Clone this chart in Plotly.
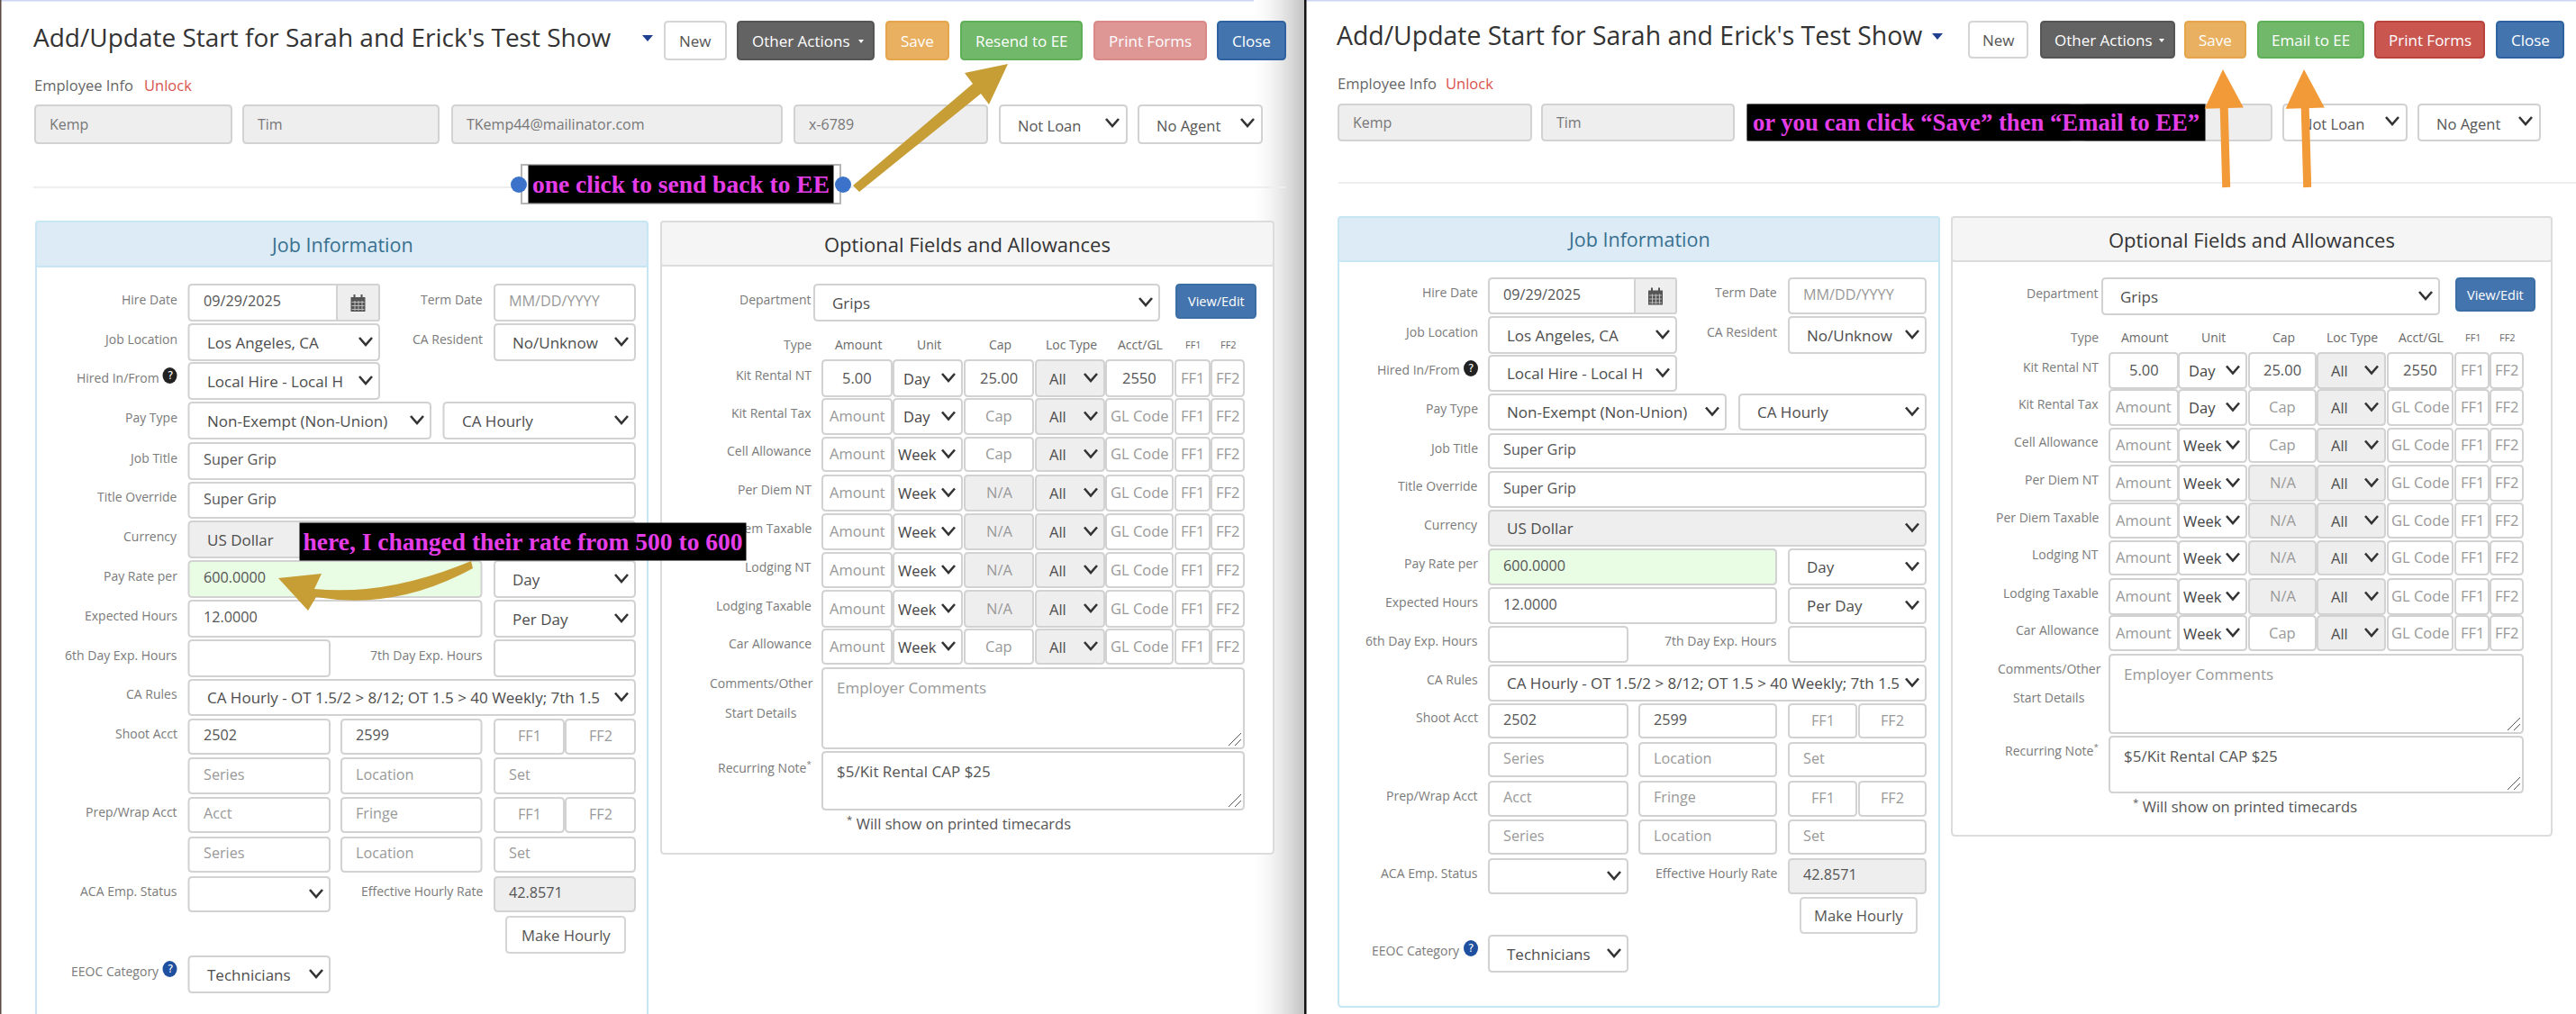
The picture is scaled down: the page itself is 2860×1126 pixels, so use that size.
import plotly.graph_objects as go

# ---------- text content ----------
PAGE_TITLE = "Add/Update Start for Sarah and Erick's Test Show"
TOP_BUTTONS_L = ["New", "Other Actions", "Save", "Resend to EE", "Print Forms", "Close"]
TOP_BUTTONS_R = ["New", "Other Actions", "Save", "Email to EE", "Print Forms", "Close"]
EMP_FIELDS = ["Kemp", "Tim", "TKemp44@mailinator.com", "x-6789"]
EMP_SELECTS = ["Not Loan", "No Agent"]
NOTE_L1 = "one click to send back to EE"
NOTE_L2 = "here, I changed their rate from 500 to 600"
NOTE_R = "or you can click “Save” then “Email to EE”"
JOB_HEAD = "Job Information"
OPT_HEAD = "Optional Fields and Allowances"
FORM_LABELS = ["Hire Date", "Job Location", "Hired In/From", "Pay Type", "Job Title", "Title Override",
               "Currency", "Pay Rate per", "Expected Hours", "6th Day Exp. Hours", "CA Rules", "Shoot Acct",
               "", "Prep/Wrap Acct", "", "ACA Emp. Status", "", "EEOC Category"]
CA_RULES = "CA Hourly - OT 1.5/2 > 8/12; OT 1.5 > 40 Weekly; 7th 1.5"
COL_HEADS = ["Amount", "Unit", "Cap", "Loc Type", "Acct/GL", "FF1", "FF2"]
ALLOW_TYPES = ["Kit Rental NT", "Kit Rental Tax", "Cell Allowance", "Per Diem NT", "Per Diem Taxable",
               "Lodging NT", "Lodging Taxable", "Car Allowance"]
ALLOW_AMOUNT = ["5.00", "Amount", "Amount", "Amount", "Amount", "Amount", "Amount", "Amount"]
ALLOW_UNIT = ["Day", "Day", "Week", "Week", "Week", "Week", "Week", "Week"]
ALLOW_CAP = ["25.00", "Cap", "Cap", "N/A", "N/A", "N/A", "N/A", "Cap"]
ALLOW_GL = ["2550", "GL Code", "GL Code", "GL Code", "GL Code", "GL Code", "GL Code", "GL Code"]

OS = "Open Sans"
VAL, PH, LAB = "#555555", "#999999", "#7a7a7a"
BORDER = "#d2d2d2"
FIELD_SIZE = 16.2
SELECT_SIZE = 17
LABEL_SIZE = 14
shapes, anns = [], []


def rrect(x0, y0, x1, y1, fill="white", line=BORDER, r=4, lw=2):
    p = (f"M{x0+r},{y0} L{x1-r},{y0} Q{x1},{y0} {x1},{y0+r} L{x1},{y1-r} Q{x1},{y1} {x1-r},{y1} "
         f"L{x0+r},{y1} Q{x0},{y1} {x0},{y1-r} L{x0},{y0+r} Q{x0},{y0} {x0+r},{y0} Z")
    shapes.append(dict(type="path", path=p, fillcolor=fill, line=dict(color=line, width=lw), layer="above"))


def rect(x0, y0, x1, y1, fill):
    shapes.append(dict(type="rect", x0=x0, y0=y0, x1=x1, y1=y1, fillcolor=fill, line=dict(width=0), layer="above"))


def poly(pts, fill, color=None, lw=0, closed=True):
    p = "M" + " L".join(f"{a},{b}" for a, b in pts) + (" Z" if closed else "")
    shapes.append(dict(type="path", path=p, fillcolor=fill if closed else "rgba(0,0,0,0)",
                       line=dict(color=color or fill, width=lw), layer="above"))


def text(x, y, s, size=FIELD_SIZE, color=VAL, anchor="left", family=OS):
    if s:
        anns.append(dict(x=x, y=y, text=s, showarrow=False, xanchor=anchor, yanchor="middle",
                         font=dict(size=size, color=color, family=family), borderpad=0, borderwidth=0))


def chevron(xc, yc):
    poly([(xc - 7, yc - 4), (xc, yc + 4), (xc + 7, yc - 4)], None, "#333333", 2.6, closed=False)


def field(x0, y0, x1, y1, s="", ph=False, fill="white", center=False, size=FIELD_SIZE):
    rrect(x0, y0, x1, y1, fill=fill)
    if center:
        text((x0 + x1) / 2, (y0 + y1) / 2 - 1, s, size, PH if ph else VAL, "center")
    else:
        text(x0 + 16, (y0 + y1) / 2 - 2, s, size, PH if ph else VAL)


def select(x0, y0, x1, y1, s="", pad=20, fill="white", color="#4d4d4d", size=SELECT_SIZE):
    rrect(x0, y0, x1, y1, fill=fill)
    text(x0 + pad, (y0 + y1) / 2, s, size, color)
    chevron(x1 - 15, (y0 + y1) / 2 - 1)


def help_icon(x, y, color):
    shapes.append(dict(type="circle", x0=x - 8, x1=x + 8, y0=y - 9, y1=y + 9, fillcolor=color,
                       line=dict(width=0), layer="above"))
    text(x, y, "?", 12, "white", "center", "DejaVu Sans")


def button(x0, y0, x1, y1, s, fill, line, color="white", size=17):
    rrect(x0, y0, x1, y1, fill=fill, line=line)
    text((x0 + x1) / 2, (y0 + y1) / 2, s, size, color, "center")


def calendar(cx, cy):
    rect(cx - 8, cy - 6, cx + 8, cy + 10, "#555555")
    rect(cx - 5, cy - 9, cx - 3, cy - 5, "#555555")
    rect(cx + 3, cy - 9, cx + 5, cy - 5, "#555555")
    for dy in (-1, 3, 7):
        rect(cx - 7, cy + dy, cx + 7, cy + dy + 1, "#bbbbbb")
    for dx in (-4, 0, 4):
        rect(cx + dx, cy - 2, cx + dx + 1, cy + 9, "#bbbbbb")


def header(g):
    text(g["tx"], g["ty"], PAGE_TITLE, g["ts"], "#333333")
    c = g["caret"]
    poly([(c - 6, g["cy"] - 3), (c + 6, g["cy"] - 3), (c, g["cy"] + 4)], "#1f3f8f")
    y0, y1 = g["by"]
    for (a, b), s, (f, l) in zip(g["bx"], g["btns"], g["bc"]):
        if s == "New":
            button(a, y0, b, y1, s, "white", "#d5d5d5", "#555555")
        elif s == "Other Actions":
            rrect(a, y0, b, y1, fill=f, line=l)
            text((a + b) / 2 - 5, (y0 + y1) / 2, s, 17, "white", "center")
            m = b - 14
            poly([(m - 3, (y0 + y1) / 2 - 1), (m + 3, (y0 + y1) / 2 - 1), (m, (y0 + y1) / 2 + 3)], "white")
        else:
            button(a, y0, b, y1, s, f, l)
    text(g["tx"] + 1, g["ey"], "Employee Info", 16.5, "#666666")
    text(g["unlock"], g["ey"], "Unlock", 16.5, "#d9534f")
    iy0, iy1 = g["iy"]
    for (a, b), s in zip(g["ix"], EMP_FIELDS):
        rrect(a, iy0, b, iy1, fill="#eeeeee")
        text(a + 16, (iy0 + iy1) / 2, s, 16, "#777777")
    for (a, b), s in zip(g["sx"], EMP_SELECTS):
        rrect(a, iy0, b, iy1, fill="white")
        text(a + 20, (iy0 + iy1) / 2 + 1, s, 16.5, "#555555")
        chevron(b - 16, (iy0 + iy1) / 2 - 2)
    rect(g["hr"][0], g["hy"] - 1, g["hr"][1], g["hy"] + 1, "#eeeeee")


def job_panel(g):
    p = g["panel"]
    rrect(p[0], p[1], p[2], p[3], fill="white", line="#c6e6f3", lw=2)
    rrect(p[0], p[1], p[2], p[4], fill="#dcebf5", line="#c6e6f3", lw=2, r=3)
    text((p[0] + p[2]) / 2, (p[1] + p[4]) / 2, JOB_HEAD, 21.5, "#38708f", "center")
    Y = g["rows"]
    x0, xf, c2 = g["x0"], g["xf"], g["c2"]
    a, b0, b1, f1, f2 = g["a"], g["b0"], g["b1"], g["f1"], g["f2"]
    for i, lab in enumerate(FORM_LABELS):
        ly = (Y[i][0] + Y[i][1]) / 2 - 4
        r = g["lr"] - (20 if lab in ("Hired In/From", "EEOC Category") else 0)
        text(r, ly, lab, LABEL_SIZE, LAB, "right")
    help_icon(g["lr"] - 8, Y[2][0] + 14, "#222222")
    help_icon(g["lr"] - 8, Y[17][0] + 14, "#1f4f9f")
    for lab, i in (("Term Date", 0), ("CA Resident", 1), ("7th Day Exp. Hours", 9), ("Effective Hourly Rate", 15)):
        text(g["l2"], (Y[i][0] + Y[i][1]) / 2 - 4, lab, LABEL_SIZE, LAB, "right")
    # Hire date group with calendar add-on
    y0, y1 = Y[0]
    rrect(x0, y0, g["he"], y1)
    rrect(g["ad"], y0, g["he"], y1, fill="#eeeeee", r=2)
    text(x0 + 16, (y0 + y1) / 2 - 2, "09/29/2025", FIELD_SIZE, VAL)
    calendar((g["ad"] + g["he"]) / 2, (y0 + y1) / 2)
    field(c2, y0, xf, y1, "MM/DD/YYYY", ph=True)
    select(x0, Y[1][0], g["he"], Y[1][1], "Los Angeles, CA")
    select(c2, Y[1][0], xf, Y[1][1], "No/Unknow")
    select(x0, Y[2][0], g["he"], Y[2][1], "Local Hire - Local H")
    select(x0, Y[3][0], g["p1"], Y[3][1], "Non-Exempt (Non-Union)")
    select(g["p2"], Y[3][0], xf, Y[3][1], "CA Hourly")
    field(x0, Y[4][0], xf, Y[4][1], "Super Grip")
    field(x0, Y[5][0], xf, Y[5][1], "Super Grip")
    select(x0, Y[6][0], xf, Y[6][1], "US Dollar", fill="#eeeeee")
    field(x0, Y[7][0], b1, Y[7][1], "600.0000", fill="#e9fce4")
    select(c2, Y[7][0], xf, Y[7][1], "Day")
    field(x0, Y[8][0], b1, Y[8][1], "12.0000")
    select(c2, Y[8][0], xf, Y[8][1], "Per Day")
    field(x0, Y[9][0], a, Y[9][1])
    field(c2, Y[9][0], xf, Y[9][1])
    select(x0, Y[10][0], xf, Y[10][1], CA_RULES)
    for k, (s1, s2, s3, s4) in ((11, ("2502", "2599", "FF1", "FF2")), (13, ("Acct", "Fringe", "FF1", "FF2"))):
        field(x0, Y[k][0], a, Y[k][1], s1, ph=(k == 13))
        field(b0, Y[k][0], b1, Y[k][1], s2, ph=(k == 13))
        field(c2, Y[k][0], f1, Y[k][1], s3, ph=True, center=True)
        field(f2, Y[k][0], xf, Y[k][1], s4, ph=True, center=True)
    for k in (12, 14):
        field(x0, Y[k][0], a, Y[k][1], "Series", ph=True)
        field(b0, Y[k][0], b1, Y[k][1], "Location", ph=True)
        field(c2, Y[k][0], xf, Y[k][1], "Set", ph=True)
    select(x0, Y[15][0], a, Y[15][1])
    field(c2, Y[15][0], xf, Y[15][1], "42.8571", fill="#eeeeee")
    button(g["m0"], Y[16][0], g["m1"], Y[16][1], "Make Hourly", "white", "#d5d5d5", "#555555", 16.7)
    select(x0, Y[17][0], a, Y[17][1], "Technicians")


def opt_panel(g):
    p = g["panel"]
    rrect(p[0], p[1], p[2], p[3], fill="white", line="#dcdcdc", lw=2)
    rrect(p[0], p[1], p[2], p[4], fill="#f5f5f5", line="#dcdcdc", lw=2, r=3)
    text((p[0] + p[2]) / 2, (p[1] + p[4]) / 2, OPT_HEAD, 22, "#333333", "center")
    d = g["dept"]
    text(g["lr"] - 1, (d[1] + d[3]) / 2 - 4, "Department", LABEL_SIZE, LAB, "right")
    select(d[0], d[1], d[2], d[3], "Grips")
    v = g["view"]
    button(v[0], v[1], v[2], v[3], "View/Edit", "#4474ad", "#3a6ea5", "white", 14.5)
    C = g["cols"]
    text(g["lr"], g["hy"], "Type", LABEL_SIZE, LAB, "right")
    for (a, b), s in zip(C, COL_HEADS):
        sz = 11 if s.startswith("FF") else 14
        text((a + b) / 2 + 1, g["hy"], s, sz, "#6a6a6a", "center")
    for i, (y0, y1) in enumerate(g["rows"]):
        text(g["lr"], (y0 + y1) / 2 - 4, ALLOW_TYPES[i], LABEL_SIZE, LAB, "right")
        am = ALLOW_AMOUNT[i]
        field(C[0][0], y0, C[0][1], y1, am, ph=(am == "Amount"), center=True, size=16.5)
        un = ALLOW_UNIT[i]
        select(C[1][0], y0, C[1][1], y1, un, pad=(11 if un == "Day" else 5), color="#444444", size=16.5)
        cp = ALLOW_CAP[i]
        field(C[2][0], y0, C[2][1], y1, cp, ph=(cp != "25.00"), fill="#eeeeee" if cp == "N/A" else "white", center=True, size=16.5)
        select(C[3][0], y0, C[3][1], y1, "All", pad=15, fill="#eeeeee", size=16.5)
        gl = ALLOW_GL[i]
        field(C[4][0], y0, C[4][1], y1, gl, ph=(gl == "GL Code"), center=True, size=16.5)
        field(C[5][0], y0, C[5][1], y1, "FF1", ph=True, center=True, size=16.5)
        field(C[6][0], y0, C[6][1], y1, "FF2", ph=True, center=True, size=16.5)
    x0, x1 = C[0][0], C[6][1]
    for (y0, y1), s, ph in zip(g["areas"], ("Employer Comments", "$5/Kit Rental CAP $25"), (True, False)):
        rrect(x0, y0, x1, y1)
        text(x0 + 16, y0 + 21, s, 17, PH if ph else VAL)
        for q in (14, 7):
            poly([(x1 - 3 - q, y1 - 3), (x1 - 3, y1 - 3 - q)], None, "#555555", 1, closed=False)
    text(g["cx"], g["cy"][0], "Comments/Other", LABEL_SIZE, LAB, "center")
    text(g["cx"], g["cy"][1], "Start Details", LABEL_SIZE, LAB, "center")
    text(g["lr"], g["cy"][2], "Recurring Note<sup>*</sup>", LABEL_SIZE, LAB, "right")
    text(g["wx"], g["wy"], "<sup>*</sup> Will show on printed timecards", 16.5, "#555555")


# ---------- page backgrounds ----------
rect(0, 0, 2860, 1126, "white")
rect(0, 0, 2860, 1.5, "#cdd6f2")
rect(0, 0, 1.5, 1126, "#5a4a40")
# shadow at the right edge of the first screenshot
SHADE = 56
for i in range(SHADE):
    v = int(255 - 60 * ((i + 1) / SHADE) ** 1.6)
    rect(1392 + i, 0, 1393 + i, 1126, f"rgb({v},{v},{v})")
rect(1448, 0, 1450.5, 1126, "#111111")

FAINT_PRINT = ("#de9795", "#d98a88")
L = dict(tx=37, ty=41, cy=42, ts=28, caret=719, by=(24, 66),
         bx=[(738, 806), (819, 970), (984, 1053), (1067, 1201), (1215, 1339), (1352, 1427)],
         btns=TOP_BUTTONS_L,
         bc=[("white", "#ddd"), ("#636363", "#555555"), ("#e8b060", "#e5a54a"), ("#71b86b", "#5fae58"), FAINT_PRINT, ("#4474ad", "#2e62a0")],
         ey=94, unlock=160, iy=(117, 159), ix=[(39, 257), (270, 487), (502, 868), (882, 1096)],
         sx=[(1110, 1251), (1264, 1401)], hr=(37, 1427), hy=208)
R = dict(tx=1484, ty=39, cy=40, ts=28.4, caret=2151, by=(24, 64),
         bx=[(2186, 2251), (2266, 2414), (2426, 2493), (2507, 2624), (2637, 2758), (2772, 2846)],
         btns=TOP_BUTTONS_R,
         bc=[("white", "#ddd"), ("#636363", "#555555"), ("#e8b060", "#e5a54a"), ("#71b86b", "#5fae58"), ("#c9564f", "#b8433d"), ("#4474ad", "#2e62a0")],
         ey=92, unlock=1605, iy=(116, 156), ix=[(1486, 1700), (1712, 1925), (1940, 2300), (2313, 2522)],
         sx=[(2535, 2672), (2685, 2820)], hr=(1486, 2860), hy=203)
header(L)
header(R)

job_panel(dict(panel=(40, 246, 719, 1140, 296), x0=209.5, xf=705, he=421, ad=374, c2=549, p1=478, p2=492.5,
               a=366, b0=379, b1=534.5, f1=626, f2=628, m0=562, m1=694, lr=196.5, l2=536,
               rows=[(316, 356), (360, 400), (403, 443), (447, 487), (492, 532), (536, 575), (579, 619), (623, 663),
                     (667, 707), (711, 751), (755, 794), (799, 837), (842, 881), (886, 924), (930, 968), (974, 1012),
                     (1018, 1058), (1062, 1102)]))
job_panel(dict(panel=(1486, 241, 2153, 1118, 290), x0=1653, xf=2138, he=1861, ad=1815, c2=1986, p1=1916, p2=1931,
               a=1807, b0=1820, b1=1972, f1=2061, f2=2064, m0=1999, m1=2128, lr=1641, l2=1973,
               rows=[(309, 348), (352, 392), (395, 434), (438, 477), (482, 520), (524, 563), (567, 606), (610, 649),
                     (653, 692), (696, 735), (739, 778), (782, 819), (825, 862), (868, 906), (911, 948), (954, 992),
                     (997, 1036), (1039, 1079)]))
opt_panel(dict(panel=(734, 246, 1414, 948, 295), dept=(904, 316, 1287, 356), view=(1306, 316, 1394, 353), lr=901, hy=382,
               cols=[(913, 990), (992, 1068), (1071, 1147), (1150, 1226), (1228, 1302), (1305, 1343), (1345, 1381)],
               rows=[(400, 440), (443, 482), (486, 523), (528, 567), (571, 610), (614, 652), (656, 696), (699, 737)],
               areas=[(742, 831), (835, 899)], cx=845, cy=(758, 791, 852), wx=940, wy=914))
opt_panel(dict(panel=(2167, 241, 2833, 928, 290), dept=(2334, 309, 2708, 349), view=(2727, 309, 2814, 345), lr=2330, hy=374,
               cols=[(2342, 2418), (2419, 2494), (2497, 2571), (2573, 2648), (2651, 2723), (2726, 2763), (2765, 2801)],
               rows=[(392, 431), (433, 472), (476, 513), (517, 556), (559, 597), (601, 638), (643, 682), (684, 722)],
               areas=[(727, 814), (818, 880)], cx=2275, cy=(742, 774, 833), wx=2368, wy=895))

# ---------- call-outs ----------
GOLD = "#c79e35"
ORANGE = "#f29a38"
MAGENTA = "#e53de8"
# frame around the first note
rect(578, 182, 934, 227, "#b5b5b5")
rect(580, 184, 932, 225, "white")
for xc in (576, 936):
    shapes.append(dict(type="circle", x0=xc - 9, x1=xc + 9, y0=196, y1=214, fillcolor="#3a73c9",
                       line=dict(width=0), layer="above"))
# straight gold arrow: shaft plus triangular head
poly([(947, 206), (1080, 93), (1071, 81), (1119, 71), (1098, 116), (1089, 104), (954, 213)], GOLD)
# curved gold arrow
shapes.append(dict(type="path", layer="above", fillcolor=GOLD, line=dict(width=0),
                   path="M525,631 Q440,678 351,663 L342,678 L309,642 L357,637 L349,654 Q430,662 523,623 Z"))


def note(x0, y0, x1, y1, s, size):
    anns.append(dict(x=(x0 + x1) / 2, y=(y0 + y1) / 2, text=s, showarrow=False, xanchor="center", yanchor="middle",
                     width=x1 - x0, height=y1 - y0, bgcolor="black", align="center", valign="middle", borderpad=0,
                     font=dict(size=size, color=MAGENTA, family="Liberation Serif", weight="bold")))


note(587, 184, 925, 225, NOTE_L1, 27.5)
note(333, 581, 828, 622, NOTE_L2, 27.5)
note(1940, 116, 2448, 156, NOTE_R, 26.7)
# orange arrows, kept as annotations so that they cover the text beneath them
for tip, tail in (((2468, 77), (2472, 218)), ((2558, 77), (2562, 218))):
    anns.append(dict(x=tip[0], y=tip[1], ax=tail[0], ay=tail[1], axref="x", ayref="y", text=" ", showarrow=True,
                     arrowhead=2, arrowsize=0.96, arrowwidth=9, arrowcolor=ORANGE, standoff=0, startstandoff=0))

fig = go.Figure()
fig.update_layout(width=2860, height=1126, margin=dict(l=0, r=0, t=0, b=0), plot_bgcolor="white", paper_bgcolor="white",
                  xaxis=dict(range=[0, 2860], visible=False, fixedrange=True),
                  yaxis=dict(range=[1126, 0], visible=False, fixedrange=True),
                  showlegend=False, shapes=shapes, annotations=anns)
fig.write_html("out.html", config=dict(displayModeBar=False), default_height=1126, default_width=2860,
               post_script="document.body.style.margin='0';document.documentElement.style.overflow='hidden';")
